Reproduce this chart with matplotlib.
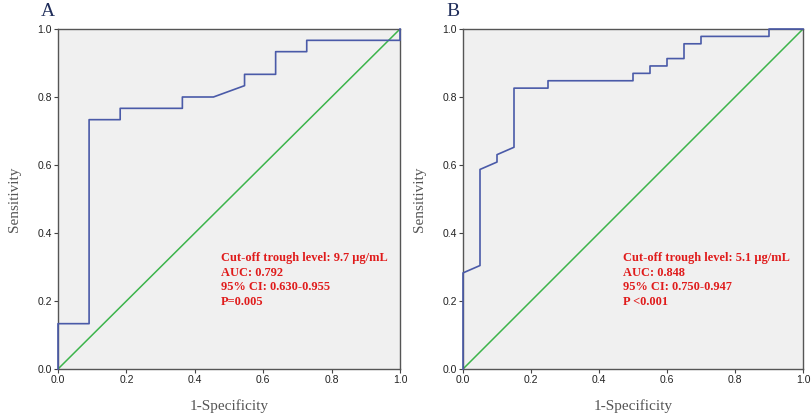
import matplotlib
matplotlib.use("Agg")
import matplotlib.pyplot as plt

# Panel A ROC curve (1-specificity, sensitivity)
fpr_a = [0.0, 0.0, 1/11, 1/11, 2/11, 2/11, 4/11, 4/11, 5/11, 6/11, 6/11, 7/11, 7/11, 8/11, 8/11, 1.0, 1.0]
tpr_a = [0.0, 4/30, 4/30, 22/30, 22/30, 23/30, 23/30, 24/30, 24/30, 25/30, 26/30, 26/30, 28/30, 28/30, 29/30, 29/30, 1.0]

# Panel B ROC curve
fpr_b = [0.0, 0.0, 0.05, 0.05, 0.10, 0.10, 0.15, 0.15, 0.25, 0.25, 0.50, 0.50, 0.55, 0.55,
         0.60, 0.60, 0.65, 0.65, 0.70, 0.70, 0.90, 0.90, 1.0]
tpr_b = [0.0, 13/46, 14/46, 27/46, 28/46, 29/46, 30/46, 38/46, 38/46, 39/46, 39/46, 40/46, 40/46, 41/46,
         41/46, 42/46, 42/46, 44/46, 44/46, 45/46, 45/46, 1.0, 1.0]

ticks = [0.0, 0.2, 0.4, 0.6, 0.8, 1.0]
tick_labels = ["0.0", "0.2", "0.4", "0.6", "0.8", "1.0"]

panel_labels = ["A", "B"]
annot_a = ["Cut-off trough level: 9.7 \u00b5g/mL", "AUC: 0.792", "95% CI: 0.630-0.955", "P=0.005"]
annot_b = ["Cut-off trough level: 5.1 \u00b5g/mL", "AUC: 0.848", "95% CI: 0.750-0.947", "P <0.001"]

fig = plt.figure(figsize=(8.11, 4.17), dpi=100)
W, H = 811, 417

def make_ax(x0, x1, y_top, y_bot):
    return fig.add_axes([x0 / W, (H - y_bot) / H, (x1 - x0) / W, (y_bot - y_top) / H])

axA = make_ax(58, 400, 29, 369)
axB = make_ax(463, 803, 29, 369)

serif = ["Liberation Serif", "DejaVu Serif"]
sans = ["Liberation Sans", "DejaVu Sans"]

for ax, fx, fy, lab, annot, tx in [
    (axA, fpr_a, tpr_a, panel_labels[0], annot_a, 0.476),
    (axB, fpr_b, tpr_b, panel_labels[1], annot_b, 0.47),
]:
    ax.set_facecolor("#f0f0f0")
    ax.plot([0, 1], [0, 1], color="#3cb44b", lw=1.1, zorder=2)
    ax.plot(fx, fy, color="#4a5aa8", lw=1.2, zorder=3, clip_on=False)
    ax.set_xlim(0, 1)
    ax.set_ylim(0, 1)
    ax.set_xticks(ticks)
    ax.set_xticklabels(tick_labels, fontfamily=sans, fontsize=7.5, color="#222222")
    ax.set_yticks(ticks)
    ax.set_yticklabels(tick_labels, fontfamily=sans, fontsize=7.5, color="#222222")
    ax.tick_params(direction="out", length=3, width=0.8, color="#444444", pad=1.5)
    for s in ax.spines.values():
        s.set_color("#555555")
        s.set_linewidth(1.0)
    ax.set_xlabel("1-Specificity", fontfamily=serif, fontsize=11, color="#555555", labelpad=10)
    ax.set_ylabel("Sensitivity", fontfamily=serif, fontsize=11, color="#555555", labelpad=12)
    ax.text(-0.03, 1.05, lab, transform=ax.transAxes, fontfamily=serif, fontsize=14,
            color="#1f2d5a", ha="center", va="center")
    for i, line in enumerate(annot):
        ax.text(tx, 0.325 - i * 0.0426, line, transform=ax.transData, fontfamily=serif,
                fontsize=8.9, fontweight="bold", color="#e01b1b", ha="left", va="center")

fig.savefig("out.png", dpi=100)
